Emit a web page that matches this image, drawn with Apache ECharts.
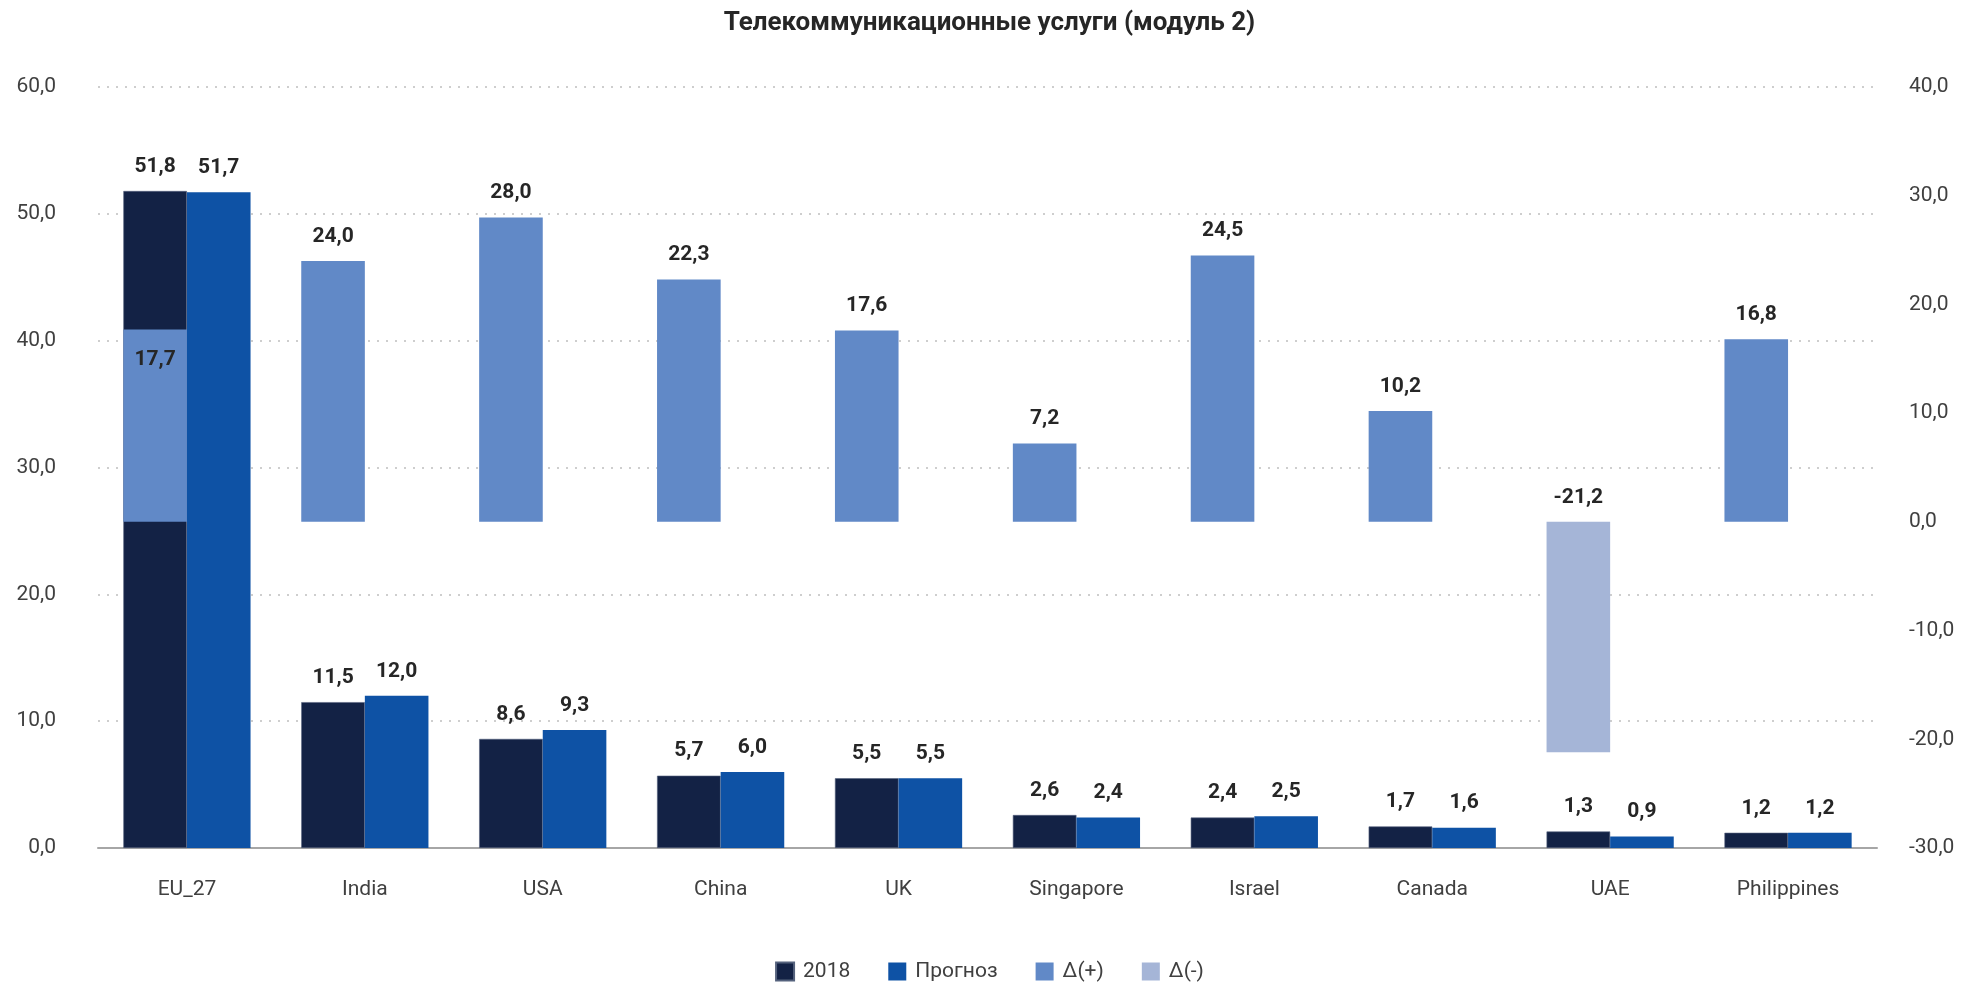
<!DOCTYPE html>
<html>
<head>
<meta charset="utf-8">
<script src="https://cdn.jsdelivr.net/npm/echarts@6/dist/echarts.min.js"></script>
<style>html,body{margin:0;padding:0;background:#fff}#c{width:1979px;height:988px}</style>
</head>
<body>
<div id="c"></div>
<script>
const categories = ['EU_27','India','USA','China','UK','Singapore','Israel','Canada','UAE','Philippines'];
const v2018 = [51.8, 11.5, 8.6, 5.7, 5.5, 2.6, 2.4, 1.7, 1.3, 1.2];
const vForecast = [51.7, 12.0, 9.3, 6.0, 5.5, 2.4, 2.5, 1.6, 0.9, 1.2];
const deltaPos = [17.7, 24.0, 28.0, 22.3, 17.6, 7.2, 24.5, 10.2, null, 16.8];
const deltaNeg = [null, null, null, null, null, null, null, null, -21.2, null];
const leftTicks = {min: 0, max: 60, interval: 10};
const rightTicks = {min: -30, max: 40, interval: 10};

const FONT = 'Roboto';
const fmt = v => (v == null ? '' : Number(v).toFixed(1).replace('.', ','));
const labelStyle = {
  show: true, position: 'top', distance: 14,
  fontFamily: FONT, fontWeight: 'bold', fontSize: 21, color: '#262626',
  formatter: p => fmt(p.value)
};

const posData = deltaPos.map((v, i) => i === 0
  ? {value: v, label: {position: 'insideTop', distance: 20}}
  : v);

const chart = echarts.init(document.getElementById('c'));
chart.setOption({
  animation: false,
  backgroundColor: '#ffffff',
  title: {
    text: 'Телекоммуникационные услуги (модуль 2)',
    left: 'center', top: 5,
    textStyle: {fontFamily: FONT, fontWeight: 'bold', fontSize: 26, color: '#262626'}
  },
  legend: {
    data: ['2018', 'Прогноз', 'Δ(+)', 'Δ(-)'],
    bottom: 1, left: 'center',
    icon: 'rect', itemWidth: 18, itemHeight: 18, itemGap: 38,
    textStyle: {fontFamily: FONT, fontSize: 21, color: '#404040', padding: [0, 0, 0, 4]}
  },
  grid: {left: 98, right: 102, top: 87, bottom: 140},
  xAxis: [
    {
      type: 'category', data: categories,
      axisLine: {lineStyle: {color: '#A6A6A6', width: 2}},
      axisTick: {show: false},
      axisLabel: {fontFamily: FONT, fontSize: 21, color: '#404040', margin: 31}
    },
    {
      type: 'category', data: categories, show: false
    }
  ],
  yAxis: [
    {
      type: 'value', min: leftTicks.min, max: leftTicks.max, interval: leftTicks.interval,
      axisLine: {show: false}, axisTick: {show: false},
      axisLabel: {fontFamily: FONT, fontSize: 21, color: '#404040', margin: 42, formatter: fmt},
      splitLine: {lineStyle: {color: '#BFBFBF', type: [2, 7], width: 1.5}}
    },
    {
      type: 'value', min: rightTicks.min, max: rightTicks.max, interval: rightTicks.interval,
      axisLine: {show: false}, axisTick: {show: false},
      axisLabel: {fontFamily: FONT, fontSize: 21, color: '#404040', margin: 32, formatter: fmt},
      splitLine: {show: false}
    }
  ],
  series: [
    {
      name: '2018', type: 'bar', xAxisIndex: 0, yAxisIndex: 0,
      data: v2018, barGap: '0%', barCategoryGap: '28.5%',
      itemStyle: {color: '#132245', borderColor: '#55627d', borderWidth: 0.6},
      label: labelStyle, z: 2
    },
    {
      name: 'Прогноз', type: 'bar', xAxisIndex: 0, yAxisIndex: 0,
      data: vForecast, barGap: '0%', barCategoryGap: '28.5%',
      itemStyle: {color: '#0E52A5'},
      label: labelStyle, z: 2
    },
    {
      name: 'Δ(+)', type: 'bar', xAxisIndex: 1, yAxisIndex: 1, stack: 'delta',
      data: posData, barGap: '0%', barCategoryGap: '28.5%',
      itemStyle: {color: '#6189C7'},
      label: labelStyle, z: 3
    },
    {
      name: 'Δ(-)', type: 'bar', xAxisIndex: 1, yAxisIndex: 1, stack: 'delta',
      data: deltaNeg, barGap: '0%', barCategoryGap: '28.5%',
      itemStyle: {color: '#A5B5D7'},
      label: labelStyle, z: 3
    },
    {
      name: 'spacer', type: 'bar', xAxisIndex: 1, yAxisIndex: 1,
      data: categories.map(() => null), barGap: '0%', barCategoryGap: '28.5%',
      silent: true
    }
  ]
});
</script>
</body>
</html>
